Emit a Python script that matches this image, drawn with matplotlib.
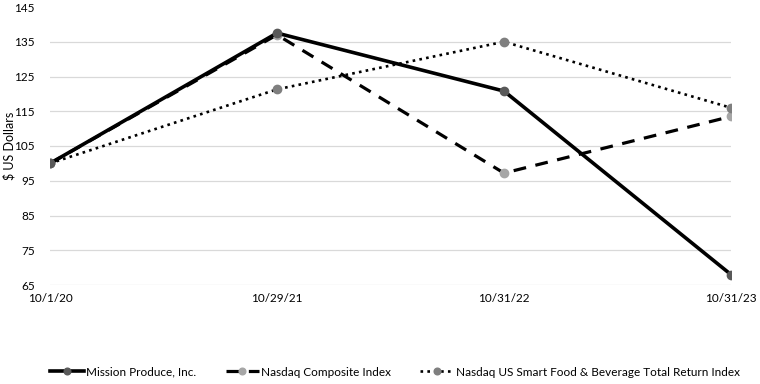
import matplotlib
matplotlib.use("Agg")
import matplotlib.pyplot as plt

dates = ["10/1/20", "10/29/21", "10/31/22", "10/31/23"]
mission = [100, 137.5, 120.8, 68]
nasdaq_comp = [100, 137, 97.2, 113.5]
food_bev = [100, 121.3, 135, 116]
yticks = [65, 75, 85, 95, 105, 115, 125, 135, 145]

plt.rcParams['font.family'] = ['Lato', 'DejaVu Sans']

fig = plt.figure(figsize=(7.6, 3.84), dpi=100)
ax = fig.add_axes([50/760, 1-285/384, 681/760, 278/384])

x = list(range(len(dates)))
ax.plot(x, mission, color='black', lw=2.6, marker='o', ms=6,
        mfc='#595959', mec='#595959', label='Mission Produce, Inc.', zorder=4)
ax.plot(x, nasdaq_comp, color='black', lw=2.3, ls=(0, (4, 3)), marker='o', ms=6,
        mfc='#a6a6a6', mec='#a6a6a6', label='Nasdaq Composite Index', zorder=3)
ax.plot(x, food_bev, color='black', lw=1.9, ls=(0, (1, 1.6)), marker='o', ms=6,
        mfc='#7f7f7f', mec='#7f7f7f', label='Nasdaq US Smart Food & Beverage Total Return Index', zorder=3)

ax.set_xlim(0, 3)
ax.set_ylim(65, 145)
ax.set_yticks(yticks)
ax.set_xticks(x)
ax.set_xticklabels(dates)
for s in ax.spines.values():
    s.set_visible(False)
for v in yticks[:-1]:
    ax.axhline(v, color='#d9d9d9', lw=0.9, zorder=0)
ax.tick_params(axis='both', length=0, labelsize=8.5, colors='black')
ax.tick_params(axis='y', pad=11)
ax.tick_params(axis='x', pad=6)
ax.set_ylabel('$ US Dollars', fontsize=9, va='center')
ax.yaxis.set_label_coords(-41/681, 0.5)

handles, labels = ax.get_legend_handles_labels()
fig.legend(handles, labels, loc='center', bbox_to_anchor=(0.52, 1-372/384), ncol=3,
           frameon=False, fontsize=8.5, handlelength=2.8, columnspacing=2.5,
           handletextpad=0.2, markerscale=0.8)

fig.savefig('out.png', dpi=100)
